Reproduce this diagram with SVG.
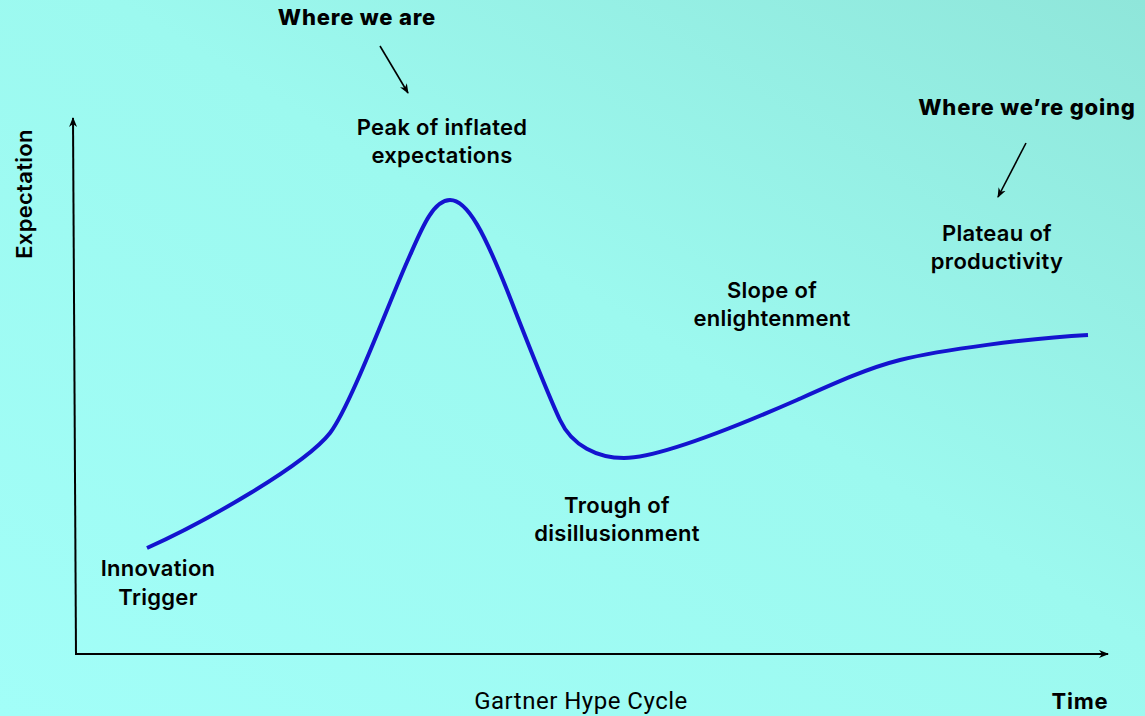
<svg xmlns="http://www.w3.org/2000/svg" width="1145" height="716" viewBox="0 0 1145 716">
  <defs>
    <linearGradient id="bg" x1="0" y1="1" x2="1" y2="0">
      <stop offset="0" stop-color="#a2fef8"/>
      <stop offset="0.55" stop-color="#9cf9ef"/>
      <stop offset="1" stop-color="#8fe6da"/>
    </linearGradient>
    <marker id="head" markerWidth="10" markerHeight="10" refX="9" refY="5" orient="auto" markerUnits="userSpaceOnUse">
      <path d="M0,1 L10,5 L0,9 L3,5 Z" fill="#000"/>
    </marker>
    <style>
      .label { font-family: Inter, "Open Sans", sans-serif; font-size: 22px; font-weight: 600; letter-spacing: 0.3px; fill: #000; text-anchor: middle; }
      .callout { font-family: Inter, "Open Sans", sans-serif; font-size: 22px; font-weight: 800; letter-spacing: 0.8px; fill: #000; text-anchor: middle; }
      .title { font-family: Roboto, "Liberation Sans", sans-serif; font-size: 24px; letter-spacing: 0.5px; fill: #000; text-anchor: middle; }
      .axis { stroke: #000; stroke-width: 2; fill: none; marker-end: url(#head); }
      .pointer { stroke: #000; stroke-width: 1.6; fill: none; marker-end: url(#head); }
      .curve { stroke: #1414cf; stroke-width: 4; fill: none; }
    </style>
  </defs>

  <rect width="1145" height="716" fill="url(#bg)"/>

  <!-- axes, hype curve and pointer arrows -->
  <g id="connectors">
    <line class="axis" x1="76" y1="655" x2="73" y2="118"/>
    <line class="axis" x1="76" y1="654" x2="1108" y2="654"/>
    <path class="curve" d="M147,548 C205,522 305,465 330,433 C350,407 388,305 407,262 C420,233 432,200 450,200 C468,200 485,235 507,290 C522,328 545,388 560,420 C572,446 598,458 624,458 C660,458 740,425 797,400 C835,383 868,368 900,360 C940,350 1030,338 1088,335"/>
    <line class="pointer" x1="380" y1="46" x2="408" y2="93"/>
    <line class="pointer" x1="1026" y1="143" x2="998" y2="197"/>
  </g>

  <g id="axis-y-label">
    <text class="label" transform="translate(32,194) rotate(-90)">Expectation</text>
  </g>
  <g id="axis-x-label">
    <text x="1080" y="709" class="callout" style="font-weight:700">Time</text>
  </g>
  <g id="chart-title">
    <text x="581" y="709" class="title">Gartner Hype Cycle</text>
  </g>

  <g id="where-we-are">
    <text x="357" y="25" class="callout">Where we are</text>
  </g>
  <g id="where-we-are-going">
    <text x="1027" y="115" class="callout">Where we’re going</text>
  </g>

  <g id="innovation-trigger">
    <text class="label" x="158" y="576">Innovation</text>
    <text class="label" x="158" y="605">Trigger</text>
  </g>
  <g id="peak">
    <text class="label" x="442" y="135">Peak of inflated</text>
    <text class="label" x="442" y="163">expectations</text>
  </g>
  <g id="trough">
    <text class="label" x="617" y="513">Trough of</text>
    <text class="label" x="617" y="541">disillusionment</text>
  </g>
  <g id="slope">
    <text class="label" x="772" y="298">Slope of</text>
    <text class="label" x="772" y="326">enlightenment</text>
  </g>
  <g id="plateau">
    <text class="label" x="997" y="241">Plateau of</text>
    <text class="label" x="997" y="269">productivity</text>
  </g>
</svg>
